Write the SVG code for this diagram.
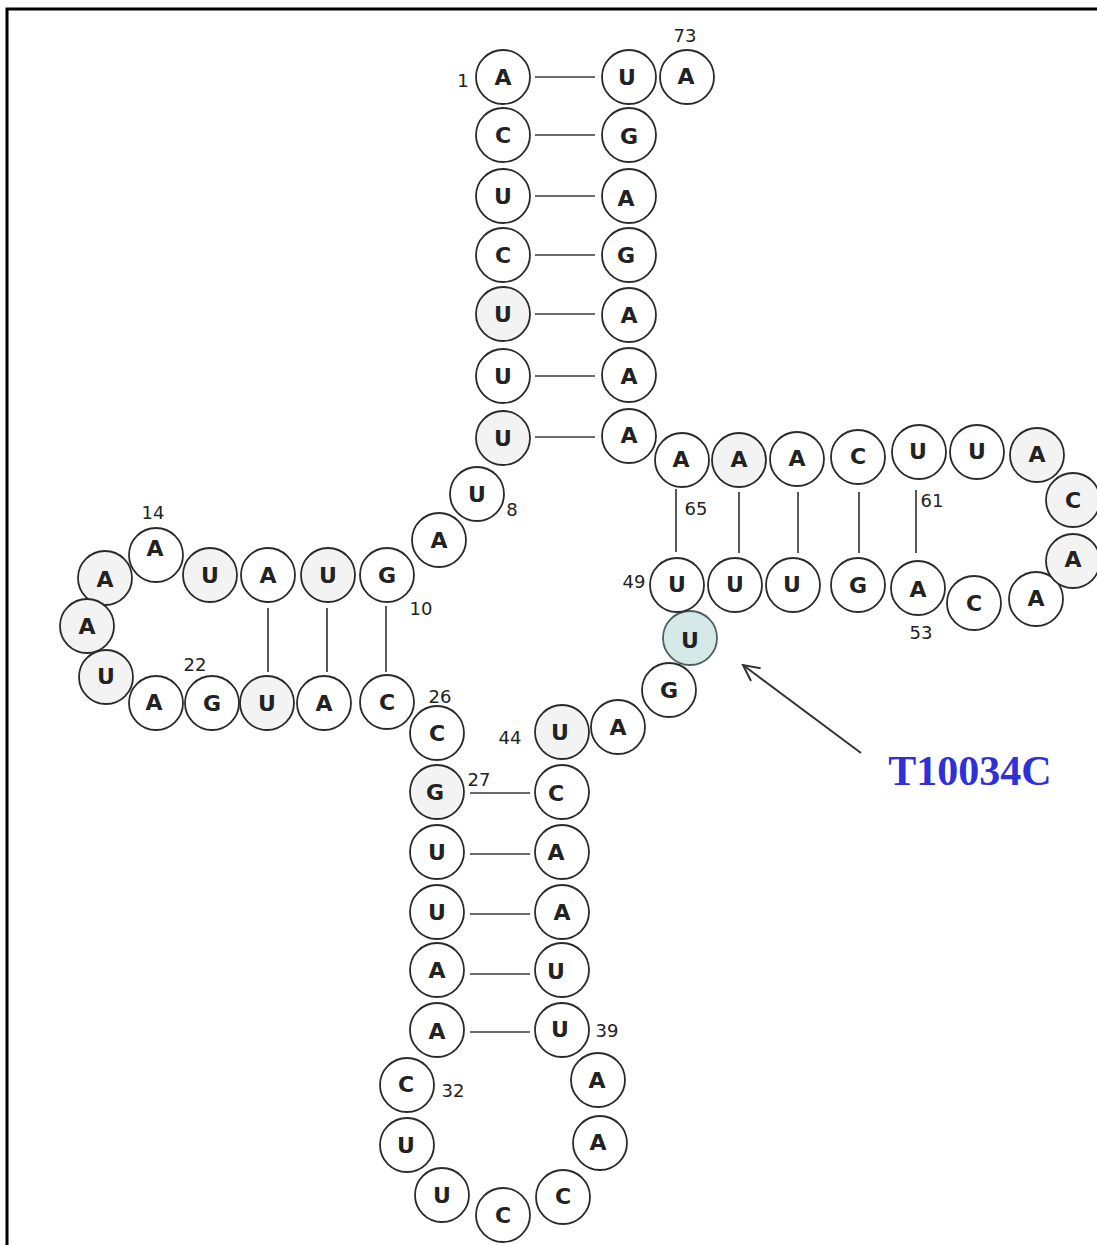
<svg xmlns="http://www.w3.org/2000/svg" width="1097" height="1245" viewBox="0 0 1097 1245">
<style>
.n circle{fill:#fff;stroke:#2a2a2a;stroke-width:1.8}
.n.s circle{fill:#f3f3f3}
.n.m circle{fill:#d5e9e8;stroke:#4d5f5f}
.n text{font-family:"DejaVu Sans",sans-serif;font-weight:bold;font-size:22px;fill:#222;text-anchor:middle;dominant-baseline:central}
.lb{font-family:"DejaVu Sans",sans-serif;font-size:18px;fill:#222;text-anchor:middle;dominant-baseline:central}
.bond line{stroke:#3a3a3a;stroke-width:1.7}
</style>
<defs>
<marker id="ah" viewBox="0 0 20 20" refX="18" refY="10" markerWidth="20" markerHeight="20" markerUnits="userSpaceOnUse" orient="auto">
<path d="M2,2 L18,10 L2,18" fill="none" stroke="#333" stroke-width="2"/>
</marker>
</defs>
<rect width="1097" height="1245" fill="#fff"/>
<path d="M7,1245 V9 H1097" fill="none" stroke="#000" stroke-width="3"/>

<g id="connectors" class="bond">
<line x1="535" y1="77" x2="595" y2="77"/>
<line x1="535" y1="135" x2="595" y2="135"/>
<line x1="535" y1="196" x2="595" y2="196"/>
<line x1="535" y1="255" x2="595" y2="255"/>
<line x1="535" y1="314" x2="595" y2="314"/>
<line x1="535" y1="376" x2="595" y2="376"/>
<line x1="535" y1="437" x2="595" y2="437"/>
<line x1="268" y1="608" x2="268" y2="672"/>
<line x1="327" y1="608" x2="327" y2="672"/>
<line x1="386" y1="606" x2="386" y2="672"/>
<line x1="676" y1="489" x2="676" y2="552"/>
<line x1="739" y1="492" x2="739" y2="553"/>
<line x1="798" y1="492" x2="798" y2="553"/>
<line x1="859" y1="492" x2="859" y2="553"/>
<line x1="916" y1="490" x2="916" y2="553"/>
<line x1="470" y1="793" x2="530" y2="793"/>
<line x1="470" y1="854" x2="530" y2="854"/>
<line x1="470" y1="914" x2="530" y2="914"/>
<line x1="470" y1="974" x2="530" y2="974"/>
<line x1="470" y1="1032" x2="530" y2="1032"/>
<line x1="861" y1="753" x2="743" y2="665" marker-end="url(#ah)" style="stroke:#333;stroke-width:2"/>
</g>

<g id="n1" class="n"><circle cx="503" cy="77" r="27"/><text x="503" y="77">A</text></g>
<g id="n2" class="n"><circle cx="503" cy="135" r="27"/><text x="503" y="135">C</text></g>
<g id="n3" class="n"><circle cx="503" cy="196" r="27"/><text x="503" y="196">U</text></g>
<g id="n4" class="n"><circle cx="503" cy="255" r="27"/><text x="503" y="255">C</text></g>
<g id="n5" class="n s"><circle cx="503" cy="314" r="27"/><text x="503" y="314">U</text></g>
<g id="n6" class="n"><circle cx="503" cy="376" r="27"/><text x="503" y="376">U</text></g>
<g id="n7" class="n s"><circle cx="503" cy="438" r="27"/><text x="503" y="438">U</text></g>
<g id="n8" class="n"><circle cx="477" cy="494" r="27"/><text x="477" y="494">U</text></g>
<g id="n9" class="n"><circle cx="439" cy="540" r="27"/><text x="439" y="540">A</text></g>
<g id="n10" class="n"><circle cx="387" cy="575" r="27"/><text x="387" y="575">G</text></g>
<g id="n11" class="n s"><circle cx="328" cy="575" r="27"/><text x="328" y="575">U</text></g>
<g id="n12" class="n"><circle cx="268" cy="575" r="27"/><text x="268" y="575">A</text></g>
<g id="n13" class="n s"><circle cx="210" cy="575" r="27"/><text x="210" y="575">U</text></g>
<g id="n14" class="n"><circle cx="156" cy="555" r="27"/><text x="155" y="548">A</text></g>
<g id="n15" class="n s"><circle cx="105" cy="578" r="27"/><text x="105" y="579">A</text></g>
<g id="n16" class="n s"><circle cx="87" cy="626" r="27"/><text x="87" y="626">A</text></g>
<g id="n17" class="n s"><circle cx="106" cy="677" r="27"/><text x="106" y="676">U</text></g>
<g id="n18" class="n"><circle cx="156" cy="703" r="27"/><text x="154" y="702">A</text></g>
<g id="n19" class="n"><circle cx="212" cy="703" r="27"/><text x="212" y="703">G</text></g>
<g id="n20" class="n s"><circle cx="267" cy="703" r="27"/><text x="267" y="703">U</text></g>
<g id="n21" class="n"><circle cx="324" cy="703" r="27"/><text x="324" y="703">A</text></g>
<g id="n22" class="n"><circle cx="387" cy="702" r="27"/><text x="387" y="702">C</text></g>
<g id="n23" class="n"><circle cx="437" cy="733" r="27"/><text x="437" y="733">C</text></g>
<g id="n24" class="n s"><circle cx="437" cy="792" r="27"/><text x="435" y="792">G</text></g>
<g id="n25" class="n"><circle cx="437" cy="852" r="27"/><text x="437" y="852">U</text></g>
<g id="n26" class="n"><circle cx="437" cy="912" r="27"/><text x="437" y="912">U</text></g>
<g id="n27" class="n"><circle cx="437" cy="970" r="27"/><text x="437" y="970">A</text></g>
<g id="n28" class="n"><circle cx="437" cy="1030" r="27"/><text x="437" y="1031">A</text></g>
<g id="n29" class="n"><circle cx="407" cy="1085" r="27"/><text x="406" y="1084">C</text></g>
<g id="n30" class="n"><circle cx="407" cy="1145" r="27"/><text x="406" y="1145">U</text></g>
<g id="n31" class="n"><circle cx="442" cy="1195" r="27"/><text x="442" y="1195">U</text></g>
<g id="n32" class="n"><circle cx="503" cy="1215" r="27"/><text x="503" y="1215">C</text></g>
<g id="n33" class="n"><circle cx="563" cy="1197" r="27"/><text x="563" y="1196">C</text></g>
<g id="n34" class="n"><circle cx="600" cy="1143" r="27"/><text x="598" y="1142">A</text></g>
<g id="n35" class="n"><circle cx="598" cy="1080" r="27"/><text x="597" y="1080">A</text></g>
<g id="n36" class="n"><circle cx="562" cy="1030" r="27"/><text x="560" y="1029">U</text></g>
<g id="n37" class="n"><circle cx="562" cy="970" r="27"/><text x="556" y="971">U</text></g>
<g id="n38" class="n"><circle cx="562" cy="912" r="27"/><text x="562" y="912">A</text></g>
<g id="n39" class="n"><circle cx="562" cy="852" r="27"/><text x="556" y="852">A</text></g>
<g id="n40" class="n"><circle cx="562" cy="792" r="27"/><text x="556" y="793">C</text></g>
<g id="n41" class="n s"><circle cx="562" cy="732" r="27"/><text x="560" y="732">U</text></g>
<g id="n42" class="n"><circle cx="618" cy="727" r="27"/><text x="618" y="727">A</text></g>
<g id="n43" class="n"><circle cx="669" cy="690" r="27"/><text x="669" y="690">G</text></g>
<g id="n44" class="n m"><circle cx="690" cy="638" r="27"/><text x="690" y="640">U</text></g>
<g id="n45" class="n"><circle cx="677" cy="585" r="27"/><text x="677" y="584">U</text></g>
<g id="n46" class="n"><circle cx="735" cy="585" r="27"/><text x="735" y="584">U</text></g>
<g id="n47" class="n"><circle cx="793" cy="585" r="27"/><text x="792" y="584">U</text></g>
<g id="n48" class="n"><circle cx="858" cy="585" r="27"/><text x="858" y="585">G</text></g>
<g id="n49" class="n"><circle cx="918" cy="588" r="27"/><text x="918" y="589">A</text></g>
<g id="n50" class="n"><circle cx="974" cy="603" r="27"/><text x="974" y="603">C</text></g>
<g id="n51" class="n"><circle cx="1036" cy="599" r="27"/><text x="1036" y="598">A</text></g>
<g id="n52" class="n s"><circle cx="1073" cy="561" r="27"/><text x="1073" y="559">A</text></g>
<g id="n53" class="n s"><circle cx="1073" cy="500" r="27"/><text x="1073" y="500">C</text></g>
<g id="n54" class="n s"><circle cx="1037" cy="455" r="27"/><text x="1037" y="454">A</text></g>
<g id="n55" class="n"><circle cx="977" cy="452" r="27"/><text x="977" y="451">U</text></g>
<g id="n56" class="n"><circle cx="919" cy="452" r="27"/><text x="918" y="451">U</text></g>
<g id="n57" class="n"><circle cx="858" cy="457" r="27"/><text x="858" y="456">C</text></g>
<g id="n58" class="n"><circle cx="797" cy="459" r="27"/><text x="797" y="458">A</text></g>
<g id="n59" class="n s"><circle cx="739" cy="460" r="27"/><text x="739" y="459">A</text></g>
<g id="n60" class="n"><circle cx="682" cy="460" r="27"/><text x="681" y="459">A</text></g>
<g id="n61" class="n"><circle cx="629" cy="436" r="27"/><text x="629" y="435">A</text></g>
<g id="n62" class="n"><circle cx="629" cy="375" r="27"/><text x="629" y="376">A</text></g>
<g id="n63" class="n"><circle cx="629" cy="315" r="27"/><text x="629" y="315">A</text></g>
<g id="n64" class="n"><circle cx="629" cy="255" r="27"/><text x="626" y="255">G</text></g>
<g id="n65" class="n"><circle cx="629" cy="196" r="27"/><text x="626" y="198">A</text></g>
<g id="n66" class="n"><circle cx="629" cy="135" r="27"/><text x="629" y="136">G</text></g>
<g id="n67" class="n"><circle cx="629" cy="77" r="27"/><text x="627" y="77">U</text></g>
<g id="n68" class="n"><circle cx="687" cy="77" r="27"/><text x="686" y="76">A</text></g>

<g id="labels">
<text class="lb" x="463" y="80">1</text>
<text class="lb" x="685" y="35">73</text>
<text class="lb" x="512" y="509">8</text>
<text class="lb" x="153" y="512">14</text>
<text class="lb" x="421" y="608">10</text>
<text class="lb" x="195" y="664">22</text>
<text class="lb" x="440" y="696">26</text>
<text class="lb" x="479" y="779">27</text>
<text class="lb" x="510" y="737">44</text>
<text class="lb" x="453" y="1090">32</text>
<text class="lb" x="607" y="1030">39</text>
<text class="lb" x="634" y="581">49</text>
<text class="lb" x="921" y="632">53</text>
<text class="lb" x="932" y="500">61</text>
<text class="lb" x="696" y="508">65</text>
</g>
<text id="mutation" x="970" y="785" text-anchor="middle" font-family="'Liberation Serif',serif" font-weight="bold" font-size="42" fill="#3030d8">T10034C</text>
</svg>
